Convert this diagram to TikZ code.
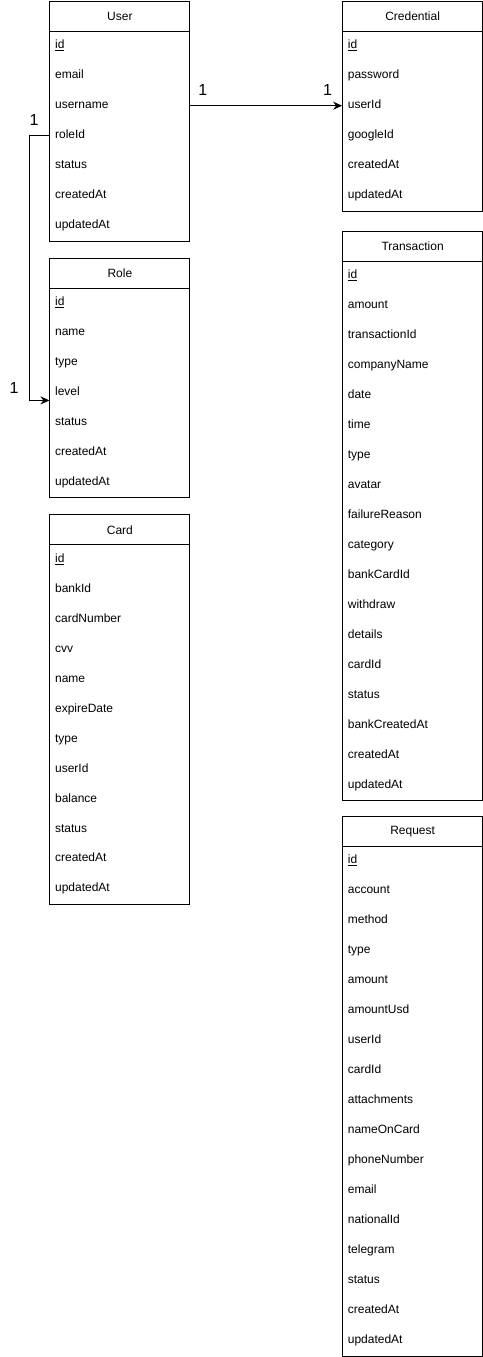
\documentclass[tikz,border=0pt]{standalone}
\usepackage{fontspec}
\setmainfont{Liberation Sans}
\usetikzlibrary{arrows.meta,positioning}

\tikzset{
	tablebox/.style={draw, line width=1pt, minimum width=140pt, inner sep=0pt, anchor=north west},
	tablehead/.style={tablebox, minimum height=30pt, font=\fontsize{12}{14}\selectfont},
	field/.style={anchor=west, inner sep=0pt, text height=9pt, text depth=3pt, font=\fontsize{12}{14}\selectfont},
	mult/.style={inner sep=0pt, font=\fontsize{16}{19}\selectfont},
	relation/.style={line width=1pt, -{Stealth[length=9pt,width=8pt]}},
}

\begin{document}
\begin{tikzpicture}[x=1pt, y=-1pt]
			\useasboundingbox (0,-0.3) rectangle (483.3,1358);
			% Specify the boxes of the tables:
			\node[tablehead] (U) at (49.5, 0.5) {User};
			\node[tablebox, minimum height=210pt] (UB) at (49.5, 30.5) {};
			\node[tablehead] (R) at (49.5, 257.5) {Role};
			\node[tablebox, minimum height=210pt] (RB) at (49.5, 287.5) {};
			\node[tablehead] (K) at (49.5, 514.5) {Card};
			\node[tablebox, minimum height=360pt] (KB) at (49.5, 544.5) {};
			\node[tablehead] (C) at (342.5, 0.5) {Credential};
			\node[tablebox, minimum height=180pt] (CB) at (342.5, 30.5) {};
			\node[tablehead] (T) at (342.5, 230.5) {Transaction};
			\node[tablebox, minimum height=540pt] (TB) at (342.5, 260.5) {};
			\node[tablehead] (Q) at (342.5, 816.5) {Request};
			\node[tablebox, minimum height=510pt] (QB) at (342.5, 846.5) {};
			% Specify the fields of User:
			\node[field] (U1) at (55, 45.5) {\underline{id}};
			\node[field] (U2) at (55, 75.5) {email};
			\node[field] (U3) at (55, 105.5) {username};
			\node[field] (U4) at (55, 135.5) {roleId};
			\node[field] (U5) at (55, 165.5) {status};
			\node[field] (U6) at (55, 195.5) {createdAt};
			\node[field] (U7) at (55, 225.5) {updatedAt};
			% Specify the fields of Role:
			\node[field] (R1) at (55, 302.5) {\underline{id}};
			\node[field] (R2) at (55, 332.5) {name};
			\node[field] (R3) at (55, 362.5) {type};
			\node[field] (R4) at (55, 392.5) {level};
			\node[field] (R5) at (55, 422.5) {status};
			\node[field] (R6) at (55, 452.5) {createdAt};
			\node[field] (R7) at (55, 482.5) {updatedAt};
			% Specify the fields of Card:
			\node[field] (K1) at (55, 559.5) {\underline{id}};
			\node[field] (K2) at (55, 589.5) {bankId};
			\node[field] (K3) at (55, 619.5) {cardNumber};
			\node[field] (K4) at (55, 649.5) {cvv};
			\node[field] (K5) at (55, 679.5) {name};
			\node[field] (K6) at (55, 709.5) {expireDate};
			\node[field] (K7) at (55, 739.5) {type};
			\node[field] (K8) at (55, 769.5) {userId};
			\node[field] (K9) at (55, 799.5) {balance};
			\node[field] (K10) at (55, 829.5) {status};
			\node[field] (K11) at (55, 859.5) {createdAt};
			\node[field] (K12) at (55, 889.5) {updatedAt};
			% Specify the fields of Credential:
			\node[field] (C1) at (348, 45.5) {\underline{id}};
			\node[field] (C2) at (348, 75.5) {password};
			\node[field] (C3) at (348, 105.5) {userId};
			\node[field] (C4) at (348, 135.5) {googleId};
			\node[field] (C5) at (348, 165.5) {createdAt};
			\node[field] (C6) at (348, 195.5) {updatedAt};
			% Specify the fields of Transaction:
			\node[field] (T1) at (348, 275.5) {\underline{id}};
			\node[field] (T2) at (348, 305.5) {amount};
			\node[field] (T3) at (348, 335.5) {transactionId};
			\node[field] (T4) at (348, 365.5) {companyName};
			\node[field] (T5) at (348, 395.5) {date};
			\node[field] (T6) at (348, 425.5) {time};
			\node[field] (T7) at (348, 455.5) {type};
			\node[field] (T8) at (348, 485.5) {avatar};
			\node[field] (T9) at (348, 515.5) {failureReason};
			\node[field] (T10) at (348, 545.5) {category};
			\node[field] (T11) at (348, 575.5) {bankCardId};
			\node[field] (T12) at (348, 605.5) {withdraw};
			\node[field] (T13) at (348, 635.5) {details};
			\node[field] (T14) at (348, 665.5) {cardId};
			\node[field] (T15) at (348, 695.5) {status};
			\node[field] (T16) at (348, 725.5) {bankCreatedAt};
			\node[field] (T17) at (348, 755.5) {createdAt};
			\node[field] (T18) at (348, 785.5) {updatedAt};
			% Specify the fields of Request:
			\node[field] (Q1) at (348, 861.5) {\underline{id}};
			\node[field] (Q2) at (348, 891.5) {account};
			\node[field] (Q3) at (348, 921.5) {method};
			\node[field] (Q4) at (348, 951.5) {type};
			\node[field] (Q5) at (348, 981.5) {amount};
			\node[field] (Q6) at (348, 1011.5) {amountUsd};
			\node[field] (Q7) at (348, 1041.5) {userId};
			\node[field] (Q8) at (348, 1071.5) {cardId};
			\node[field] (Q9) at (348, 1101.5) {attachments};
			\node[field] (Q10) at (348, 1131.5) {nameOnCard};
			\node[field] (Q11) at (348, 1161.5) {phoneNumber};
			\node[field] (Q12) at (348, 1191.5) {email};
			\node[field] (Q13) at (348, 1221.5) {nationalId};
			\node[field] (Q14) at (348, 1251.5) {telegram};
			\node[field] (Q15) at (348, 1281.5) {status};
			\node[field] (Q16) at (348, 1311.5) {createdAt};
			\node[field] (Q17) at (348, 1341.5) {updatedAt};
			% Draw the relations:
			\draw[relation] (U3 -| UB.east) -- (C3 -| CB.west);
			\draw[relation] (U4 -| UB.west) -- ++(-20,0) |- ([yshift=-8pt]R4.west -| RB.west);
			% Specify the multiplicities:
			\node[mult] (M1) at (203, 90) {1};
			\node[mult] (M2) at (328, 90) {1};
			\node[mult] (M3) at (34, 120) {1};
			\node[mult] (M4) at (14, 388) {1};
\end{tikzpicture}
\end{document}
